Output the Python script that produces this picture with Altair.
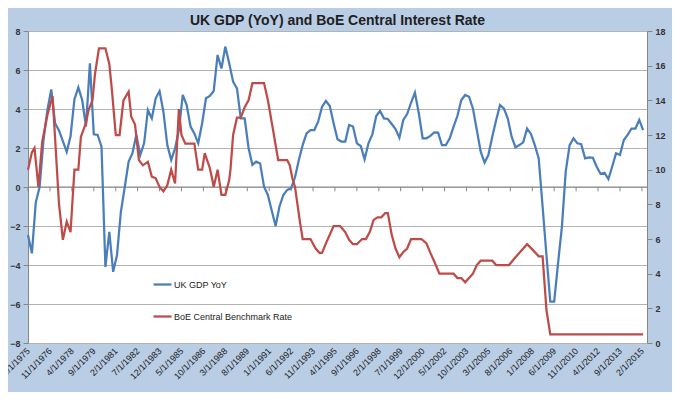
import altair as alt
import pandas as pd

# ---------------- data ----------------
gdp_dates = [
    "1975-06", "1975-09", "1975-12", "1976-03", "1976-06", "1976-09", "1976-12",
    "1977-03", "1977-06", "1977-09", "1977-12", "1978-03", "1978-06", "1978-09", "1978-12",
    "1979-03", "1979-06", "1979-09", "1979-12", "1980-03", "1980-06", "1980-09", "1980-12",
    "1981-03", "1981-06", "1981-09", "1981-12", "1982-03", "1982-06", "1982-09", "1982-12",
    "1983-03", "1983-06", "1983-09", "1983-12", "1984-03", "1984-06", "1984-09", "1984-12",
    "1985-03", "1985-06", "1985-09", "1985-12", "1986-03", "1986-06", "1986-09", "1986-12",
    "1987-03", "1987-06", "1987-09", "1987-12", "1988-03", "1988-06", "1988-09", "1988-12",
    "1989-03", "1989-06", "1989-09", "1989-12", "1990-03", "1990-06", "1990-09", "1990-12",
    "1991-03", "1991-06", "1991-09", "1991-12", "1992-03", "1992-06", "1992-09", "1992-12",
    "1993-03", "1993-06", "1993-09", "1993-12", "1994-03", "1994-06", "1994-09", "1994-12",
    "1995-03", "1995-06", "1995-09", "1995-12", "1996-03", "1996-06", "1996-09", "1996-12",
    "1997-03", "1997-06", "1997-09", "1997-12", "1998-03", "1998-06", "1998-09", "1998-12",
    "1999-03", "1999-06", "1999-09", "1999-12", "2000-03", "2000-06", "2000-09", "2000-12",
    "2001-03", "2001-06", "2001-09", "2001-12", "2002-03", "2002-06", "2002-09", "2002-12",
    "2003-03", "2003-06", "2003-09", "2003-12", "2004-03", "2004-06", "2004-09", "2004-12",
    "2005-03", "2005-06", "2005-09", "2005-12", "2006-03", "2006-06", "2006-09", "2006-12",
    "2007-03", "2007-06", "2007-09", "2007-12", "2008-03", "2008-06", "2008-09", "2008-12",
    "2009-03", "2009-06", "2009-09", "2009-12", "2010-03", "2010-06", "2010-09", "2010-12",
    "2011-03", "2011-06", "2011-09", "2011-12", "2012-03", "2012-06", "2012-09", "2012-12",
    "2013-03", "2013-06", "2013-09", "2013-12", "2014-03", "2014-06", "2014-09", "2014-12",
    "2015-03",
]
gdp_values = [
    -2.46, -3.4, -0.8, 0.0, 2.4, 3.95, 5.0,
    3.27, 2.9, 2.35, 1.8, 2.6, 4.5, 5.1, 4.46,
    3.1, 6.34, 2.7, 2.67, 2.07, -4.1, -2.3, -4.35,
    -3.5, -1.27, 0.0, 1.3, 1.73, 2.67, 1.64, 2.24,
    3.95, 3.52, 4.55, 4.92, 3.86, 2.15, 1.38, 1.98,
    2.92, 4.72, 4.2, 3.1, 2.75, 2.24, 3.27, 4.55,
    4.67, 4.92, 6.77, 6.08, 7.2, 6.34, 5.4, 5.06,
    3.52, 3.52, 2.0, 1.13, 1.3, 1.21, 0.02, -0.41,
    -1.2, -2.0, -1.0, -0.41, -0.15, -0.07, 0.5, 1.38,
    2.15, 2.75, 2.92, 2.92, 3.35, 4.12, 4.41, 4.15,
    3.27, 2.45, 2.33, 2.33, 3.18, 3.1, 2.24, 2.1,
    1.42, 2.24, 2.7, 3.64, 3.9, 3.52, 3.49, 3.23,
    2.97, 2.53, 3.44, 3.74, 4.32, 4.84, 3.78, 2.5,
    2.5, 2.62, 2.8, 2.79, 2.15, 2.15, 2.5, 3.1,
    3.64, 4.46, 4.72, 4.63, 4.03, 2.92, 1.81, 1.25,
    1.64, 2.58, 3.44, 4.2, 4.03, 3.52, 2.58, 2.03,
    2.15, 2.29, 3.0, 2.72, 2.15, 1.47, -1.0, -3.5,
    -5.88, -5.88, -3.9, -2.03, 0.8, 2.15, 2.5, 2.24,
    2.2, 1.47, 1.52, 1.5, 1.04, 0.67, 0.73, 0.41,
    1.04, 1.73, 1.64, 2.41, 2.67, 3.0, 3.0, 3.44,
    2.92,
]

rate_dates = [
    "1975-06", "1975-09", "1975-11", "1976-02", "1976-05", "1976-09", "1977-01",
    "1977-06", "1977-09", "1977-12", "1978-03", "1978-06", "1978-09", "1978-11",
    "1979-03", "1979-05", "1979-08", "1979-10", "1980-01", "1980-06", "1980-09",
    "1980-11", "1981-02", "1981-05", "1981-08", "1981-12", "1982-02", "1982-05",
    "1982-08", "1982-11", "1983-03", "1983-06", "1983-09", "1983-12", "1984-03",
    "1984-06", "1984-09", "1984-12", "1985-03", "1985-05", "1985-08", "1986-03",
    "1986-06", "1986-09", "1986-11", "1987-03", "1987-05", "1987-06", "1987-09",
    "1987-12", "1988-03", "1988-06", "1988-07", "1988-09", "1988-12", "1989-03",
    "1989-06", "1989-09", "1989-12", "1990-09", "1990-12", "1991-04", "1991-08",
    "1992-03", "1992-05", "1992-07", "1992-09", "1993-01", "1993-03", "1993-09",
    "1994-01", "1994-04", "1994-06", "1994-09", "1995-03", "1995-08", "1995-12",
    "1996-03", "1996-06", "1996-09", "1997-01", "1997-04", "1997-07", "1997-10",
    "1998-01", "1998-04", "1998-07", "1998-09", "1998-12", "1999-03", "1999-06",
    "1999-09", "1999-12", "2000-03", "2000-11", "2001-03", "2001-06", "2001-09",
    "2002-01", "2002-12", "2003-03", "2003-06", "2003-09", "2004-03", "2004-06",
    "2004-09", "2005-06", "2005-09", "2006-07", "2006-12", "2007-09", "2008-01",
    "2008-06", "2008-09", "2008-12", "2009-03", "2015-03",
]
rate_values = [
    10.0, 11.0, 11.25, 9.0, 11.6, 13.15, 14.25,
    8.05, 5.95, 7.0, 6.4, 10.0, 10.0, 11.9,
    12.7, 13.45, 14.0, 15.55, 17.0, 17.0, 16.1,
    14.6, 12.0, 12.0, 14.0, 14.5, 13.05, 12.6,
    10.55, 10.25, 10.45, 9.6, 9.5, 9.0, 8.75,
    9.1, 10.0, 9.2, 13.5, 12.0, 11.5, 11.5,
    10.0, 10.0, 10.95, 10.1, 9.4, 9.0, 10.0,
    8.55, 8.55, 9.4, 10.0, 12.0, 13.0, 13.0,
    13.6, 14.0, 15.0, 15.0, 14.0, 12.3, 10.55,
    10.55, 10.25, 9.5, 9.0, 6.9, 6.0, 6.0,
    5.45, 5.2, 5.2, 5.75, 6.75, 6.75, 6.4,
    5.95, 5.7, 5.7, 6.0, 6.0, 6.4, 7.1,
    7.25, 7.25, 7.5, 7.5, 6.25, 5.45, 4.95,
    5.25, 5.45, 6.0, 6.0, 5.75, 5.2, 4.7,
    4.0, 4.0, 3.75, 3.75, 3.5, 4.0, 4.5,
    4.75, 4.75, 4.5, 4.5, 4.95, 5.7, 5.4,
    5.0, 5.0, 1.9, 0.5, 0.5,
]

tick_label_dates = [
    "1975-06", "1976-11", "1978-04", "1979-09", "1981-02", "1982-07", "1983-12",
    "1985-05", "1986-10", "1988-03", "1989-08", "1991-01", "1992-06", "1993-11",
    "1995-04", "1996-09", "1998-02", "1999-07", "2000-12", "2002-05", "2003-10",
    "2005-03", "2006-08", "2008-01", "2009-06", "2010-11", "2012-04", "2013-09",
    "2015-02",
]

series_names = ["UK GDP YoY", "BoE Central Benchmark Rate"]
series_colors = ["#4A7EBB", "#BE4B48"]
title_text = "UK GDP (YoY) and BoE Central Interest Rate"


def dt(s):
    y, m = s.split("-")
    return alt.DateTime(year=int(y), month=int(m), date=1, utc=True)


gdp_df = pd.DataFrame({"date": [d + "-01" for d in gdp_dates], "value": gdp_values,
                       "series": series_names[0]})
rate_df = pd.DataFrame({"date": [d + "-01" for d in rate_dates], "value": rate_values,
                        "series": series_names[1]})
tick_df = pd.DataFrame({"date": [d + "-01" for d in tick_label_dates]})

AXIS_GRAY = "#868686"
LABEL_FONT = "Liberation Sans"

x_enc = alt.X(
    "date:T",
    scale=alt.Scale(type="utc", domain=[dt("1975-06"), dt("2015-06")]),
    axis=alt.Axis(
        values=[dt(d) for d in tick_label_dates],
        labelExpr="utcFormat(datum.value, '%-m/%-d/%Y')",
        labelAngle=-45, labelAlign="right", labelBaseline="middle",
        labelPadding=6, labelFontSize=9, labelColor="#222222", labelFont=LABEL_FONT,
        domain=False, ticks=False, grid=False, title=None, labelOverlap=False,
    ),
)

y_left_scale = alt.Scale(domain=[-8, 8], nice=False, zero=False)
y_left_axis = alt.Axis(
    values=list(range(-8, 9, 2)), orient="left", title=None,
    grid=True, gridColor="#B3B3B3", gridWidth=1,
    domain=True, domainColor=AXIS_GRAY, ticks=True, tickColor=AXIS_GRAY, tickSize=5,
    labelFontSize=9, labelFontWeight="bold", labelColor="#333333", labelFont=LABEL_FONT,
    labelPadding=3,
)

color_enc = alt.Color(
    "series:N",
    scale=alt.Scale(domain=series_names, range=series_colors),
    legend=alt.Legend(
        title=None, orient="none", legendX=124, legendY=243, direction="vertical",
        symbolType="stroke", symbolStrokeWidth=2.25, symbolSize=324,
        labelFontSize=9, labelColor="#222222", labelFont=LABEL_FONT,
        labelOffset=1, rowPadding=16, padding=0,
    ),
)

gdp_line = alt.Chart(gdp_df).mark_line(strokeWidth=2.25).encode(
    x=x_enc,
    y=alt.Y("value:Q", scale=y_left_scale, axis=y_left_axis),
    color=color_enc,
)

zero_line = alt.Chart(pd.DataFrame({"z": [0]})).mark_rule(color=AXIS_GRAY, strokeWidth=1).encode(
    y=alt.Y("z:Q", scale=y_left_scale, axis=y_left_axis),
)

tick_marks = alt.Chart(tick_df).transform_calculate(y0="0", y1="-0.22").mark_rule(
    color=AXIS_GRAY, strokeWidth=1
).encode(
    x=x_enc,
    y=alt.Y("y0:Q", scale=y_left_scale, axis=y_left_axis),
    y2="y1:Q",
)

left = alt.layer(zero_line, tick_marks, gdp_line)

rate_line = alt.Chart(rate_df).mark_line(strokeWidth=2.25).encode(
    x=x_enc,
    y=alt.Y(
        "value:Q",
        scale=alt.Scale(domain=[0, 18], nice=False),
        axis=alt.Axis(
            values=list(range(0, 19, 2)), orient="right", title=None, grid=False,
            domain=True, domainColor=AXIS_GRAY, ticks=True, tickColor=AXIS_GRAY, tickSize=5,
            labelFontSize=9, labelFontWeight="bold", labelColor="#333333",
            labelFont=LABEL_FONT, labelPadding=3,
        ),
    ),
    color=color_enc,
)

chart = alt.layer(left, rate_line).resolve_scale(y="independent").properties(
    width=619,
    height=312,
    title=alt.TitleParams(
        text=title_text, fontSize=14, font=LABEL_FONT, fontWeight="bold",
        color="#1F1F1F", anchor="middle", offset=6, dy=7,
    ),
    padding={"left": 20, "top": 23, "right": 25, "bottom": 49},
    autosize=alt.AutoSizeParams(type="none"),
).configure(
    background="#B9CDE5",
).configure_view(
    fill="white", stroke=None,
)

chart.save("out.html", embed_options={"renderer": "svg", "actions": False})
